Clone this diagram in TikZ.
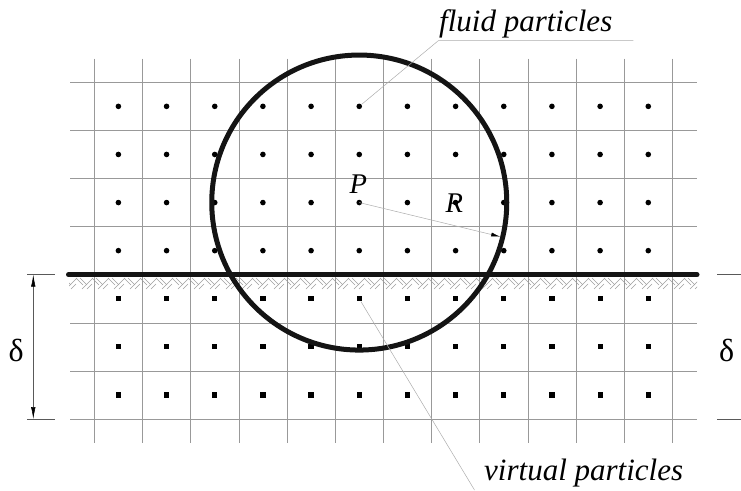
\documentclass[tikz,border=0pt]{standalone}
\usepackage{fontspec}
\setmainfont{Liberation Serif}
\usetikzlibrary{arrows.meta,calc}
\begin{document}
\begin{tikzpicture}[x=1pt,y=-1pt,
  gridline/.style={draw=gray!80,line width=0.6pt},
  heavy/.style={draw=black!92,line width=5pt},
  leader/.style={draw=gray!65,line width=0.5pt},
  hatch/.style={draw=gray!75,line width=0.6pt},
  lbl/.style={font=\fontsize{31}{34}\selectfont\itshape,inner sep=0pt},
  sym/.style={font=\fontsize{28.5}{30}\selectfont\itshape,inner sep=0pt},
  dlt/.style={font=\fontsize{32}{34}\selectfont,inner sep=0pt},
  dimline/.style={draw=gray!70!black,line width=0.5pt},
  fdot/.style={circle,fill=black,inner sep=0pt,minimum size=5.6pt},
  vdot/.style={rectangle,fill=black,inner sep=0pt,minimum size=5.2pt}]
\useasboundingbox (0,0) rectangle (741,490);
% grid
\foreach \k in {0,...,7}
  \draw[gridline] (70,82.3+48.1*\k) -- (696.7,82.3+48.1*\k);
\foreach \k in {0,...,12}
  \draw[gridline] (94.3+48.17*\k,58.7) -- (94.3+48.17*\k,443.3);
% hatching below the wall
\begin{scope}
  \clip (69,277) rectangle (697,289.5);
  \foreach \x in {60,76,...,700} {
    \draw[hatch] (\x,278) -- (\x+7,285);
    \draw[hatch] (\x+4,278) -- (\x+11,285);
    \draw[hatch] (\x+6,289) -- (\x+17,278);
    \draw[hatch] (\x+11,289) -- (\x+16,284);
  }
\end{scope}
% fluid particles
\foreach \i in {0,...,11}
  \foreach \j in {0,...,3}
    \node[fdot] (f-\i-\j) at (118.4+48.17*\i,106.35+48.1*\j) {};
% virtual particles
\foreach \i in {0,...,11}
  \foreach \j in {0,...,2}
    \node[vdot] (v-\i-\j) at (118.4+48.17*\i,298.75+48.1*\j) {};
% wall
\coordinate (wl) at (68.5,274.7);
\coordinate (wr) at (697,274.7);
\draw[heavy,line cap=round] (wl) -- (wr);
% circle
\coordinate (P) at (f-5-2.center);
\draw[heavy] (P) circle (147.5);
\coordinate (Rend) at ($(P)+(13.6:145)$);
\draw[leader,-{Latex[length=9pt,width=4pt,color=black]}] (P) -- (Rend);
\node[sym] (Plbl) at (358.3,184.2) {P};
\node[sym] (Rlbl) at (454.3,203.5) {R};
% labels and leaders
\node[lbl,anchor=base west] (fl) at (439,31.7) {fluid particles};
\coordinate (fk) at (438.3,40.7);
\coordinate (fe) at (633.3,40.7);
\draw[leader] (f-5-0) -- (fk) -- (fe);
\node[lbl,anchor=base west] (vl) at (484,480) {virtual particles};
\coordinate (vk) at (474.5,490);
\draw[leader] (v-5-0) -- (vk);
% dimension left
\coordinate (ea1) at (27,274.7); \coordinate (ea2) at (55,274.7);
\coordinate (eb1) at (27,419); \coordinate (eb2) at (55,419);
\draw[dimline] (ea1) -- (ea2);
\draw[dimline] (eb1) -- (eb2);
\coordinate (da) at (33.3,274.7);
\coordinate (db) at (33.3,419);
\draw[dimline,{Latex[length=12pt,width=4.5pt,color=black]}-{Latex[length=12pt,width=4.5pt,color=black]}] (da) -- (db);
\node[dlt] (dL) at (16.2,350) {δ};
% dimension right
\coordinate (ra1) at (717,274.7); \coordinate (ra2) at (741,274.7);
\coordinate (rb1) at (717,419); \coordinate (rb2) at (741,419);
\draw[dimline] (ra1) -- (ra2);
\draw[dimline] (rb1) -- (rb2);
\node[dlt] (dR) at (726.7,350) {δ};
\end{tikzpicture}
\end{document}
